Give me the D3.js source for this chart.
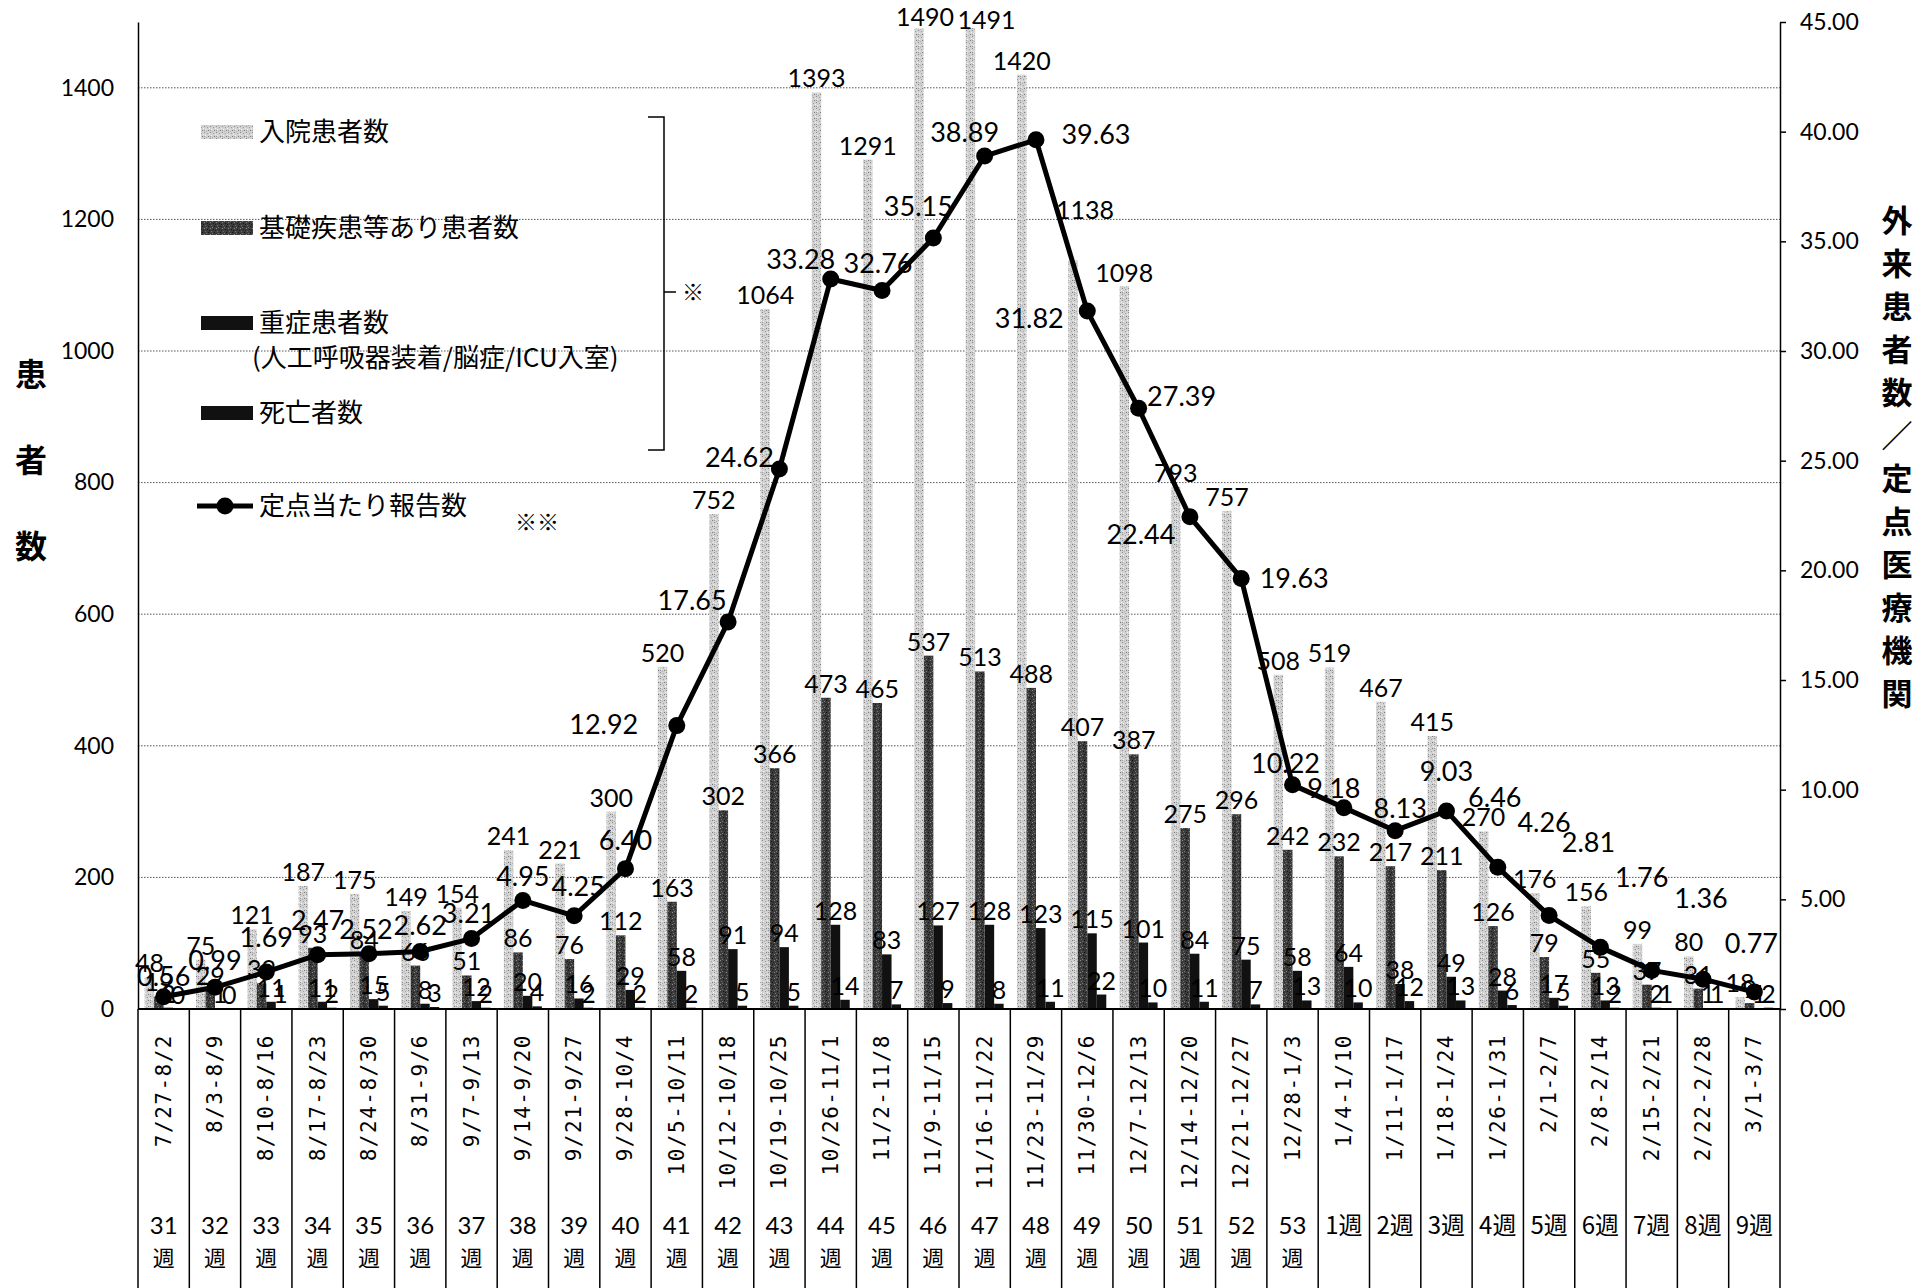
<!DOCTYPE html>
<html>
<head>
<meta charset="utf-8">
<script src="https://cdn.jsdelivr.net/npm/d3@7"></script>
<style>
  body { margin: 0; background: #fff; }
  svg { display: block; }
</style>
</head>
<body>
<div id="chart"></div>
<script>
// week ranges (bottom table)
const dates = ["7/27-8/2", "8/3-8/9", "8/10-8/16", "8/17-8/23", "8/24-8/30", "8/31-9/6", "9/7-9/13",
  "9/14-9/20", "9/21-9/27", "9/28-10/4", "10/5-10/11", "10/12-10/18", "10/19-10/25", "10/26-11/1",
  "11/2-11/8", "11/9-11/15", "11/16-11/22", "11/23-11/29", "11/30-12/6", "12/7-12/13", "12/14-12/20",
  "12/21-12/27", "12/28-1/3", "1/4-1/10", "1/11-1/17", "1/18-1/24", "1/26-1/31", "2/1-2/7",
  "2/8-2/14", "2/15-2/21", "2/22-2/28", "3/1-3/7"];
const weekNums = [31, 32, 33, 34, 35, 36, 37, 38, 39, 40, 41, 42, 43, 44, 45, 46, 47, 48, 49, 50, 51, 52, 53,
  1, 2, 3, 4, 5, 6, 7, 8, 9];

// 入院患者数 / 基礎疾患等あり患者数 / 重症患者数 / 死亡者数
const inpatients = [48, 75, 121, 187, 175, 149, 154, 241, 221, 300, 520, 752, 1064, 1393, 1291, 1490, 1491,
  1420, 1138, 1098, 793, 757, 508, 519, 467, 415, 270, 176, 156, 99, 80, 18];
const underlying = [19, 29, 39, 93, 84, 66, 51, 86, 76, 112, 163, 302, 366, 473, 465, 537, 513, 488, 407,
  387, 275, 296, 242, 232, 217, 211, 126, 79, 55, 37, 31, 9];
const severe = [2, 1, 11, 11, 15, 8, 12, 20, 16, 29, 58, 91, 94, 128, 83, 127, 128, 123, 115, 101, 84, 75,
  58, 64, 38, 49, 28, 17, 13, 2, 1, 1];
const deaths = [0, 0, 1, 2, 5, 3, 2, 4, 2, 2, 2, 5, 5, 14, 7, 9, 8, 11, 22, 10, 11, 7, 13, 10, 12, 13, 6, 5,
  2, 1, 1, 2];
// 定点当たり報告数
const rates = [0.56, 0.99, 1.69, 2.47, 2.52, 2.62, 3.21, 4.95, 4.25, 6.40, 12.92, 17.65, 24.62, 33.28,
  32.76, 35.15, 38.89, 39.63, 31.82, 27.39, 22.44, 19.63, 10.22, 9.18, 8.13, 9.03, 6.46, 4.26, 2.81,
  1.76, 1.36, 0.77];

const leftTicks = [0, 200, 400, 600, 800, 1000, 1200, 1400];
const rightTicks = [0, 5, 10, 15, 20, 25, 30, 35, 40, 45];

// where each rate label sits relative to its marker (hand placed in the original)
const rateLabelOffsets = [[0, -11], [0, -17], [0, -25], [0, -25], [-3, -15], [0, -17], [-3, -16], [0, -14],
  [4, -20], [0, -19], [-73, 8], [-36, -12], [-40, -2], [-30, -10], [-4, -17], [-15, -22], [-20, -14],
  [60, 4], [-58, 17], [43, -2], [-49, 27], [53, 10], [-7, -12], [-10, -10], [5, -13], [0, -30],
  [-3, -60], [-5, -84], [-12, -95], [-10, -83], [-2, -71], [-3, -39]];

const W = 1924, H = 1288;
const plotLeft = 138, plotRight = 1780, plotBase = 1009, plotTop = 22;
const numFont = "Lato, 'Liberation Sans', sans-serif";
const jpFont = "'Noto Sans CJK JP', sans-serif";

const svg = d3.select("#chart").append("svg")
  .attr("width", W).attr("height", H)
  .attr("viewBox", `0 0 ${W} ${H}`);

// textures for the scanned-looking bars
const defs = svg.append("defs");
function speckle(id, bg, specks, size) {
  const p = defs.append("pattern").attr("id", id)
    .attr("patternUnits", "userSpaceOnUse")
    .attr("width", size).attr("height", size);
  p.append("rect").attr("width", size).attr("height", size).attr("fill", bg);
  specks.forEach((s) => {
    p.append("rect").attr("x", s[0]).attr("y", s[1]).attr("width", 1).attr("height", 1).attr("fill", s[2]);
  });
}
speckle("light", "#d2d2d2", [[0, 0, "#8c8c8c"], [3, 1, "#a0a0a0"], [1, 3, "#f2f2f2"], [4, 4, "#7a7a7a"],
  [2, 5, "#b0b0b0"], [5, 2, "#efefef"], [0, 4, "#9a9a9a"]], 6);
speckle("dark", "#3c3c3c", [[0, 0, "#8a8a8a"], [3, 1, "#151515"], [1, 3, "#6e6e6e"], [4, 4, "#101010"],
  [2, 5, "#7a7a7a"], [5, 2, "#1c1c1c"]], 6);

const x = d3.scaleBand().domain(d3.range(dates.length)).range([plotLeft, plotRight]);
const groupW = 38;
const xb = d3.scaleBand().domain([0, 1, 2, 3]).range([0, groupW]);
const yL = d3.scaleLinear().domain([0, 1500]).range([plotBase, plotTop]);
const yR = d3.scaleLinear().domain([0, 45]).range([plotBase, plotTop]);
const cx = (i) => x(i) + x.bandwidth() / 2;
const barX = (i, k) => x(i) + (x.bandwidth() - groupW) / 2 + xb(k);

// dotted gridlines
svg.append("g").selectAll("line")
  .data(leftTicks.filter((d) => d > 0))
  .join("line")
  .attr("x1", plotLeft).attr("x2", plotRight)
  .attr("y1", (d) => yL(d)).attr("y2", (d) => yL(d))
  .attr("stroke", "#555").attr("stroke-width", 1)
  .attr("stroke-dasharray", "1.5,1.5");

// bars
const series = [
  { values: inpatients, fill: "url(#light)" },
  { values: underlying, fill: "url(#dark)" },
  { values: severe, fill: "#111" },
  { values: deaths, fill: "#111" },
];
const bars = svg.append("g");
series.forEach((s, k) => {
  bars.append("g").selectAll("rect")
    .data(s.values)
    .join("rect")
    .attr("x", (d, i) => barX(i, k))
    .attr("y", (d) => yL(d))
    .attr("width", xb.bandwidth())
    .attr("height", (d) => plotBase - yL(d))
    .attr("fill", s.fill);
});

// bar value labels (a few were nudged by hand in the original)
const hospLabelShift = { 15: [6, 2], 16: [16, 6], 18: [12, -36] };
const barLabels = svg.append("g")
  .attr("font-family", numFont).attr("font-size", 25).attr("text-anchor", "middle");
series.forEach((s, k) => {
  barLabels.append("g").selectAll("text")
    .data(s.values)
    .join("text")
    .attr("x", (d, i) => barX(i, k) + xb.bandwidth() / 2 + (k === 0 && hospLabelShift[i] ? hospLabelShift[i][0] : 0))
    .attr("y", (d, i) => yL(d) - 5 + (k === 0 && hospLabelShift[i] ? hospLabelShift[i][1] : 0))
    .text((d) => d);
});

// rate line + markers
svg.append("path")
  .datum(rates)
  .attr("fill", "none")
  .attr("stroke", "#000")
  .attr("stroke-width", 5)
  .attr("stroke-linejoin", "round")
  .attr("d", d3.line().x((d, i) => cx(i)).y((d) => yR(d)));
svg.append("g").selectAll("circle")
  .data(rates)
  .join("circle")
  .attr("cx", (d, i) => cx(i))
  .attr("cy", (d) => yR(d))
  .attr("r", 8.5)
  .attr("fill", "#000");
svg.append("g")
  .attr("font-family", numFont).attr("font-size", 27).attr("text-anchor", "middle")
  .selectAll("text")
  .data(rates)
  .join("text")
  .attr("x", (d, i) => cx(i) + rateLabelOffsets[i][0])
  .attr("y", (d, i) => yR(d) + rateLabelOffsets[i][1])
  .text((d) => d3.format(".2f")(d));

// axes
const axisL = svg.append("g")
  .attr("transform", `translate(${plotLeft},0)`)
  .call(d3.axisLeft(yL).tickValues(leftTicks).tickFormat(d3.format("d"))
    .tickSize(0).tickSizeOuter(0).tickPadding(24));
const axisR = svg.append("g")
  .attr("transform", `translate(${plotRight},0)`)
  .call(d3.axisRight(yR).tickValues(rightTicks).tickFormat(d3.format(".2f"))
    .tickSize(6).tickSizeOuter(0).tickPadding(14));
[axisL, axisR].forEach((a) => {
  a.select(".domain").attr("stroke", "#000").attr("stroke-width", 1.5);
  a.selectAll(".tick line").attr("stroke", "#000").attr("stroke-width", 1.5);
  a.selectAll("text").attr("font-family", numFont).attr("font-size", 23).attr("fill", "#000");
});

// baseline and the table underneath
svg.append("line")
  .attr("x1", plotLeft).attr("x2", plotRight).attr("y1", plotBase).attr("y2", plotBase)
  .attr("stroke", "#000").attr("stroke-width", 2);
svg.append("g").selectAll("line")
  .data(d3.range(dates.length + 1))
  .join("line")
  .attr("x1", (i) => (i < dates.length ? x(i) : plotRight))
  .attr("x2", (i) => (i < dates.length ? x(i) : plotRight))
  .attr("y1", plotBase).attr("y2", H)
  .attr("stroke", "#000").attr("stroke-width", 1.5);

svg.append("g")
  .attr("font-family", "'DejaVu Sans Mono', monospace").attr("font-size", 21)
  .attr("letter-spacing", 1.5).attr("text-anchor", "end")
  .selectAll("text")
  .data(dates)
  .join("text")
  .attr("transform", (d, i) => `translate(${cx(i) + 7},1034) rotate(-90)`)
  .text((d) => d);

const wk = svg.append("g")
  .attr("font-family", jpFont).attr("font-size", 24).attr("text-anchor", "middle");
weekNums.forEach((n, i) => {
  if (n >= 31) {
    wk.append("text").attr("x", cx(i)).attr("y", 1234).attr("font-family", numFont).text(n);
    wk.append("text").attr("x", cx(i)).attr("y", 1266).attr("font-size", 22).text("週");
  } else {
    wk.append("text").attr("x", cx(i)).attr("y", 1234).text(`${n}週`);
  }
});

// axis titles
svg.append("g")
  .attr("font-family", jpFont).attr("font-size", 32).attr("font-weight", "bold")
  .attr("text-anchor", "middle")
  .selectAll("text")
  .data(["患", "者", "数"])
  .join("text")
  .attr("x", 31).attr("y", (d, i) => 386 + i * 86)
  .text((d) => d);
svg.append("g")
  .attr("font-family", jpFont).attr("font-size", 31).attr("font-weight", "bold")
  .attr("text-anchor", "middle")
  .selectAll("text")
  .data("外来患者数／定点医療機関".split(""))
  .join("text")
  .attr("x", 1897).attr("y", (d, i) => 232 + i * 43)
  .text((d) => d);

// legend
const legend = svg.append("g").attr("font-family", jpFont).attr("font-size", 26);
const legendRows = [
  { label: "入院患者数", fill: "url(#light)", y: 132 },
  { label: "基礎疾患等あり患者数", fill: "url(#dark)", y: 228 },
  { label: "重症患者数", fill: "#111", y: 323 },
  { label: "死亡者数", fill: "#111", y: 413 },
];
legendRows.forEach((r) => {
  legend.append("rect").attr("x", 201).attr("y", r.y - 7).attr("width", 52).attr("height", 14).attr("fill", r.fill);
  legend.append("text").attr("x", 259).attr("y", r.y + 9).text(r.label);
});
legend.append("text").attr("x", 252).attr("y", 367).text("(人工呼吸器装着/脳症/ICU入室)");
legend.append("line").attr("x1", 197).attr("x2", 253).attr("y1", 506).attr("y2", 506)
  .attr("stroke", "#000").attr("stroke-width", 5);
legend.append("circle").attr("cx", 225).attr("cy", 506).attr("r", 8.5).attr("fill", "#000");
legend.append("text").attr("x", 259).attr("y", 515).text("定点当たり報告数");
legend.append("text").attr("x", 515).attr("y", 530).attr("font-size", 22).text("※※");

// bracket grouping the bar series
svg.append("path")
  .attr("d", "M648,117 H664 V450 H648 M664,292 H676")
  .attr("fill", "none").attr("stroke", "#000").attr("stroke-width", 1.5);
svg.append("text")
  .attr("x", 682).attr("y", 300)
  .attr("font-family", jpFont).attr("font-size", 22)
  .text("※");
</script>
</body>
</html>
